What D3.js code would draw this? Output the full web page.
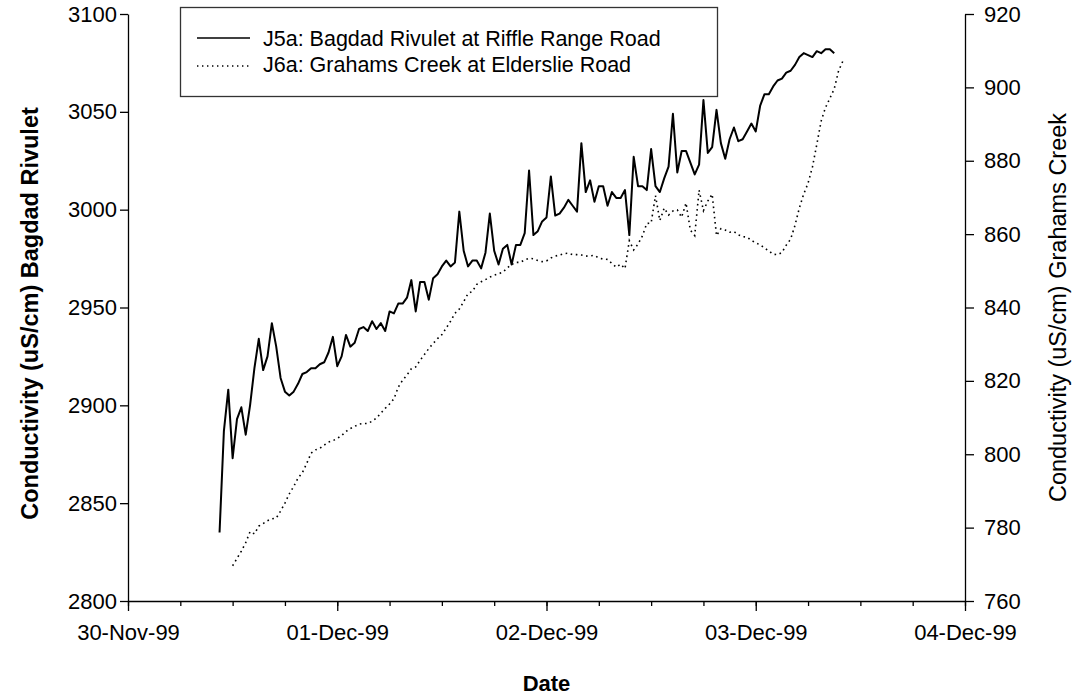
<!DOCTYPE html>
<html>
<head>
<meta charset="utf-8">
<script src="https://cdn.jsdelivr.net/npm/d3@7"></script>
<style>
  body { margin: 0; background: #fff; }
  text { font-family: "Liberation Sans", Arial, sans-serif; }
</style>
</head>
<body>
<div class="chart"></div>
<script>
// half-hourly readings
const bagdadStart = "1999-11-30T10:30:00Z";
const bagdadValues = [2835,2887,2908,2873,2893,2899,2885,2900,2919,2934,
  2918,2925,2942,2930,2914,2907,2905,2907,2911,2916,
  2917,2919,2919,2921,2922,2927,2935,2920,2925,2936,
  2930,2932,2939,2940,2938,2943,2939,2942,2938,2948,
  2947,2952,2952,2955,2964,2948,2963,2963,2954,2965,
  2967,2971,2974,2971,2973,2999,2979,2971,2974,2974,
  2970,2978,2998,2979,2972,2980,2982,2972,2982,2982,
  2988,3020,2987,2989,2994,2996,3017,2997,2998,3001,
  3005,3002,2999,3034,3009,3015,3004,3012,3012,3002,
  3009,3006,3006,3010,2987,3027,3012,3012,3010,3031,
  3012,3009,3016,3022,3049,3019,3030,3030,3024,3018,
  3023,3056,3029,3032,3051,3034,3026,3036,3042,3035,
  3036,3040,3044,3040,3053,3059,3059,3063,3066,3067,
  3070,3071,3074,3078,3080,3079,3078,3081,3080,3082,
  3082,3080];

const grahamsStart = "1999-11-30T12:00:00Z";
const grahamsValues = [769.6,771.6,773.6,775.9,778.9,778.3,780.4,781.1,781.9,782.4,
  782.6,784.5,786.7,789.2,791.2,793.5,795.0,797.5,800.3,801.2,
  801.6,802.5,803.3,803.7,804.3,805.1,806.2,807.0,807.6,808.2,
  808.4,808.4,809.0,809.9,811.2,812.5,813.7,815.1,818.3,820.2,
  821.6,823.3,823.8,825.6,827.2,828.8,830.2,831.5,832.6,834.4,
  836.3,838.4,839.6,841.6,843.8,844.4,846.3,847.0,847.6,848.3,
  848.8,849.2,849.6,850.8,851.7,852.3,852.3,853.0,853.4,853.3,
  852.8,852.5,852.7,853.5,854.0,854.3,854.7,854.8,854.4,854.4,
  854.3,854.0,854.1,854.2,853.5,853.2,853.1,852.0,851.0,851.8,
  850.6,858.2,855.7,857.3,859.5,862.9,863.0,870.5,863.7,867.1,
  865.2,866.3,866.6,864.6,868.5,861.1,859.6,872.0,866.4,869.0,
  870.9,859.6,861.5,861.1,860.5,860.7,859.8,859.3,859.2,858.3,
  857.6,857.1,856.2,855.4,854.5,854.4,855.0,857.0,858.6,862.4,
  867.1,870.9,873.9,878.3,884.4,890.8,894.5,897.0,899.6,904.5,
  907.2];

const leftTicks = [2800,2850,2900,2950,3000,3050,3100];
const rightTicks = [760,780,800,820,840,860,880,900,920];
const seriesNames = ["J5a: Bagdad Rivulet at Riffle Range Road", "J6a: Grahams Creek at Elderslie Road"];

const width = 1073, height = 698;
const plotLeft = 128, plotRight = 965, plotTop = 14, plotBottom = 601;

const svg = d3.select(".chart").append("svg")
    .attr("width", width)
    .attr("height", height);

const x = d3.scaleUtc()
    .domain([new Date("1999-11-30T00:00:00Z"), new Date("1999-12-04T00:00:00Z")])
    .range([plotLeft, plotRight]);
const yL = d3.scaleLinear().domain([2800, 3100]).range([plotBottom, plotTop]);
const yR = d3.scaleLinear().domain([760, 920]).range([plotBottom, plotTop]);

const toPoints = (start, vals) => vals.map((v, i) => ({t: d3.utcMinute.offset(new Date(start), 30 * i), v}));
const bagdad = toPoints(bagdadStart, bagdadValues);
const grahams = toPoints(grahamsStart, grahamsValues);

// axes
const tickFont = 22, titleFont = 23.5;
const gL = svg.append("g").attr("transform", `translate(${plotLeft},0)`)
    .call(d3.axisLeft(yL).tickValues(leftTicks).tickFormat(d3.format("d"))
      .tickSize(8).tickPadding(3).tickSizeOuter(0));
const gR = svg.append("g").attr("transform", `translate(${plotRight},0)`)
    .call(d3.axisRight(yR).tickValues(rightTicks).tickSize(9).tickPadding(10).tickSizeOuter(0));
const gX = svg.append("g").attr("transform", `translate(0,${plotBottom})`)
    .call(d3.axisBottom(x).ticks(d3.utcHour.every(6)).tickSize(5).tickFormat("").tickSizeOuter(0));
const gXMajor = svg.append("g").attr("transform", `translate(0,${plotBottom})`)
    .call(d3.axisBottom(x).ticks(d3.utcDay.every(1)).tickSize(10).tickPadding(13)
      .tickFormat(d3.utcFormat("%d-%b-%y")).tickSizeOuter(0));
gXMajor.select(".domain").remove();

[gL, gR, gX, gXMajor].forEach(g => {
  g.selectAll("text").attr("font-size", tickFont).attr("fill", "#000")
    .attr("font-family", '"Liberation Sans", Arial, sans-serif');
  g.selectAll("line, path").attr("stroke", "#000").attr("stroke-width", 1.3);
});

// axis titles
svg.append("text")
    .attr("transform", `translate(38,${(plotTop + plotBottom) / 2 + 6}) rotate(-90)`)
    .attr("text-anchor", "middle")
    .attr("font-size", titleFont).attr("font-weight", "bold")
    .text("Conductivity (uS/cm)  Bagdad Rivulet");
svg.append("text")
    .attr("transform", `translate(1066,${(plotTop + plotBottom) / 2}) rotate(-90)`)
    .attr("text-anchor", "middle")
    .attr("font-size", titleFont)
    .text("Conductivity (uS/cm) Grahams Creek");
svg.append("text")
    .attr("x", (plotLeft + plotRight) / 2).attr("y", 691)
    .attr("text-anchor", "middle")
    .attr("font-size", 22).attr("font-weight", "bold")
    .text("Date");

// lines
svg.append("path").datum(bagdad)
    .attr("fill", "none").attr("stroke", "#000").attr("stroke-width", 2)
    .attr("stroke-linejoin", "round")
    .attr("d", d3.line().x(d => x(d.t)).y(d => yL(d.v)));
svg.append("path").datum(grahams)
    .attr("fill", "none").attr("stroke", "#000").attr("stroke-width", 1.6)
    .attr("stroke-dasharray", "1.6,3.6")
    .attr("d", d3.line().x(d => x(d.t)).y(d => yR(d.v)));

// legend
const legend = svg.append("g");
legend.append("rect")
    .attr("x", 180.5).attr("y", 7.5).attr("width", 537).attr("height", 89)
    .attr("fill", "#fff").attr("stroke", "#333").attr("stroke-width", 1.3);
legend.append("line").attr("x1", 197).attr("x2", 250).attr("y1", 38).attr("y2", 38)
    .attr("stroke", "#000").attr("stroke-width", 1.6);
legend.append("line").attr("x1", 197).attr("x2", 250).attr("y1", 66).attr("y2", 66)
    .attr("stroke", "#000").attr("stroke-width", 1.4).attr("stroke-dasharray", "1.4,3.6");
legend.selectAll("text.lg").data(seriesNames).join("text")
    .attr("x", 263).attr("y", (d, i) => 46 + i * 26)
    .attr("font-size", 21.5)
    .text(d => d);
</script>
</body>
</html>
